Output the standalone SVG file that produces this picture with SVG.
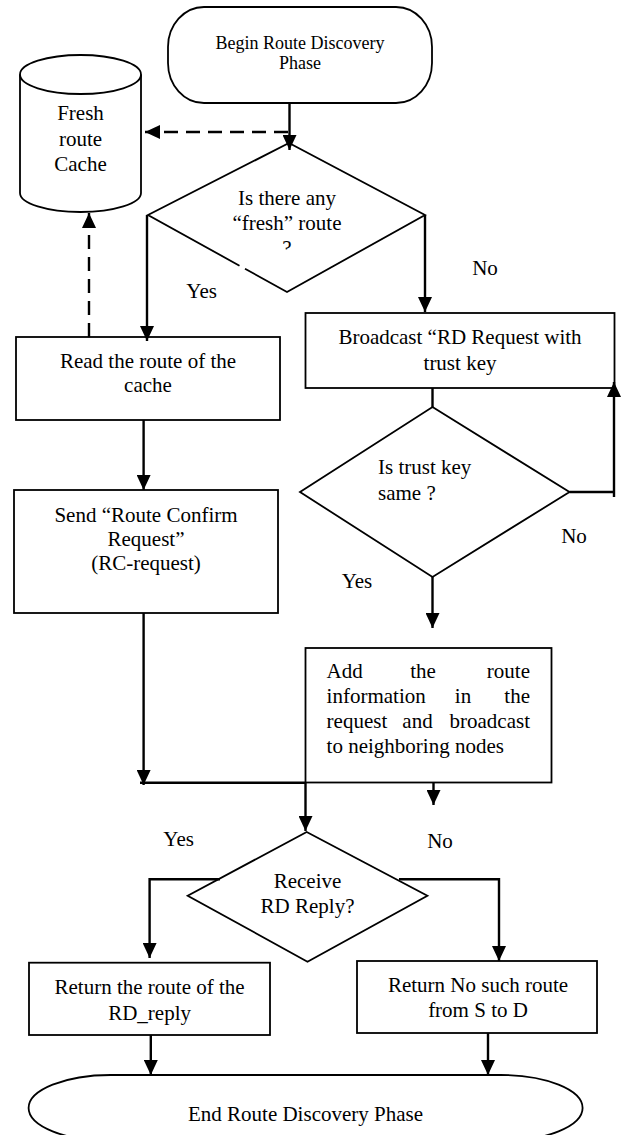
<svg xmlns="http://www.w3.org/2000/svg" width="622" height="1135" viewBox="0 0 622 1135">
<style>
.shape{fill:#fff;stroke:#000;stroke-width:1.8}
.open{fill:none;stroke:#000;stroke-width:1.8}
.t{font-family:"Liberation Serif","Times New Roman",serif;font-size:21px;fill:#000}
.c{text-anchor:middle}
.e{text-anchor:end}
.conn{fill:none;stroke:#000;stroke-width:2.4}
.dash{stroke-dasharray:14 8}
</style>
<defs>
<marker id="arr" markerUnits="userSpaceOnUse" markerWidth="15" markerHeight="14" refX="15" refY="7" orient="auto" viewBox="0 0 15 14">
<path d="M0,0 L15,7 L0,14 Z" fill="#000"/>
</marker>
<clipPath id="qclip"><rect x="270" y="230" width="40" height="19.5"/></clipPath>
</defs>
<rect width="622" height="1135" fill="#fff"/>

<g id="begin">
<rect class="shape" x="168" y="7" width="264" height="96" rx="36" ry="40"/>
<text class="t c" x="300" y="49" style="font-size:18px">Begin Route Discovery</text>
<text class="t c" x="300" y="69" style="font-size:18px">Phase</text>
</g>

<g id="cache">
<path class="shape" d="M20,74.5 A60.5,19.5 0 0 1 141,74.5 V193 A60.5,19 0 0 1 20,193 Z"/>
<path class="open" d="M20,74.5 A60.5,19.5 0 0 0 141,74.5"/>
<text class="t c" x="80.5" y="120">Fresh</text>
<text class="t c" x="80.5" y="145.5">route</text>
<text class="t c" x="80.5" y="171">Cache</text>
</g>

<g id="fresh-decision">
<path class="open" d="M239.5,265.7 L148,215 L289,143 L425,215 L287,292 L245,268.7"/>
<text class="t c" x="287" y="205">Is there any</text>
<text class="t c" x="287" y="230">“fresh” route</text>
<text class="t c" x="287" y="255" clip-path="url(#qclip)">?</text>
</g>

<g id="read-cache">
<rect class="shape" x="16" y="337" width="264" height="83"/>
<text class="t c" x="148" y="368">Read the route of the</text>
<text class="t c" x="148" y="392">cache</text>
</g>

<g id="broadcast">
<rect class="shape" x="305.5" y="313" width="309" height="75"/>
<text class="t c" x="460" y="344">Broadcast “RD Request with</text>
<text class="t c" x="460" y="370">trust key</text>
</g>

<g id="trust-decision">
<polygon class="shape" points="432.5,407 569.5,492 432.5,577 300,492"/>
<text class="t" x="378" y="474">Is trust key</text>
<text class="t" x="378" y="500">same ?</text>
</g>

<g id="send-confirm">
<rect class="shape" x="14" y="490" width="264" height="123"/>
<text class="t c" x="146" y="522">Send “Route Confirm</text>
<text class="t c" x="146" y="546">Request”</text>
<text class="t c" x="146" y="570">(RC-request)</text>
</g>

<g id="add-route">
<rect class="shape" x="305.5" y="648" width="246" height="134.5"/>
<text class="t" x="326.6" y="678">Add</text>
<text class="t c" x="423" y="678">the</text>
<text class="t e" x="530" y="678">route</text>
<text class="t" x="326.6" y="703">information</text>
<text class="t c" x="463" y="703">in</text>
<text class="t e" x="530" y="703">the</text>
<text class="t" x="326.6" y="727.5">request</text>
<text class="t c" x="417.5" y="727.5">and</text>
<text class="t e" x="530" y="727.5">broadcast</text>
<text class="t" x="326.6" y="752.5">to neighboring nodes</text>
</g>

<g id="reply-decision">
<polygon class="shape" points="306.7,832 427.4,895.7 307.5,961.7 187.7,895.7"/>
<text class="t c" x="307.5" y="888">Receive</text>
<text class="t c" x="307.5" y="913">RD Reply?</text>
</g>

<g id="return-route">
<rect class="shape" x="29" y="962.7" width="241" height="72.3"/>
<text class="t c" x="149.6" y="994">Return the route of the</text>
<text class="t c" x="149.6" y="1020">RD_reply</text>
</g>

<g id="return-none">
<rect class="shape" x="357" y="961" width="240" height="72"/>
<text class="t c" x="478" y="992">Return No such route</text>
<text class="t c" x="478" y="1017">from S to D</text>
</g>

<g id="end">
<rect class="shape" x="28.6" y="1075" width="554" height="66" rx="82" ry="33"/>
<text class="t c" x="305.5" y="1121">End Route Discovery Phase</text>
</g>

<g id="connectors">
<path class="conn" d="M289.5,103 V150" marker-end="url(#arr)"/>
<path class="conn dash" d="M288,132 H145" marker-end="url(#arr)"/>
<path class="conn" d="M147,215 V341" marker-end="url(#arr)"/>
<path class="conn" d="M425,215 V312" marker-end="url(#arr)"/>
<path class="conn dash" d="M89,337 V213" marker-end="url(#arr)"/>
<path class="conn" d="M432.5,388 V407"/>
<path class="conn" d="M432.5,577 V628" marker-end="url(#arr)"/>
<path class="conn" d="M569.5,492 H614"/>
<path class="conn" d="M614,497 V382" marker-end="url(#arr)"/>
<path class="conn" d="M143.6,420 V490" marker-end="url(#arr)"/>
<path class="conn" d="M143.6,613 V785" marker-end="url(#arr)"/>
<path class="conn" d="M140,782.7 H305.5"/>
<path class="conn" d="M305.5,782 V831" marker-end="url(#arr)"/>
<path class="conn" d="M433.5,782.7 V805" marker-end="url(#arr)"/>
<path class="conn" d="M220,879.3 H149.6 V958" marker-end="url(#arr)"/>
<path class="conn" d="M399,879.3 H499 V961" marker-end="url(#arr)"/>
<path class="conn" d="M150.8,1035 V1075" marker-end="url(#arr)"/>
<path class="conn" d="M488,1033 V1075" marker-end="url(#arr)"/>
<text class="t c" x="201.6" y="298">Yes</text>
<text class="t c" x="485" y="275">No</text>
<text class="t c" x="574" y="543">No</text>
<text class="t c" x="357" y="588">Yes</text>
<text class="t c" x="178.6" y="846">Yes</text>
<text class="t c" x="440" y="848">No</text>
</g>
</svg>
